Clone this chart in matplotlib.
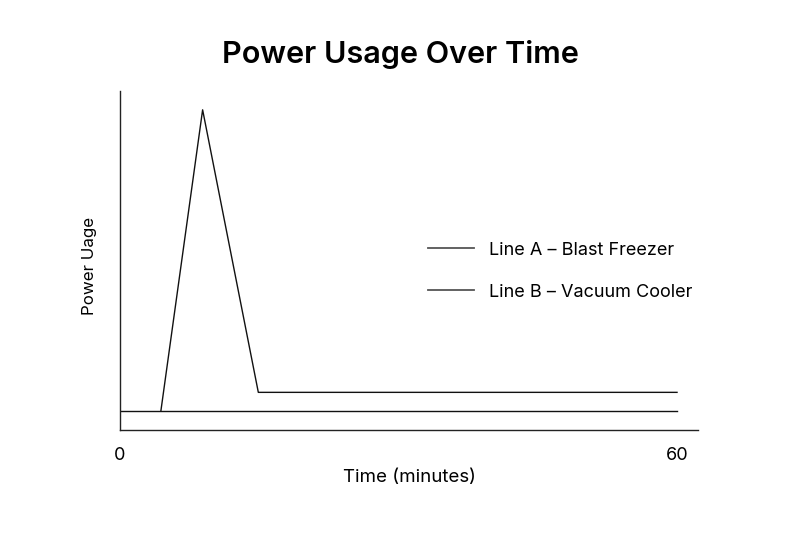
import matplotlib
matplotlib.use("Agg")
import matplotlib.pyplot as plt

plt.rcParams['font.family'] = ['Inter', 'DejaVu Sans']

# Data
time_a = [4.4, 8.9, 14.9, 60]
power_a = [1, 17, 2, 2]
time_b = [0, 60]
power_b = [1, 1]
label_a = "Line A – Blast Freezer"
label_b = "Line B – Vacuum Cooler"
x_ticks = [0, 60]

fig = plt.figure(figsize=(8, 5.33), dpi=100)
ax = fig.add_axes([0.15, 0.1932, 0.7225, 0.6361])

ax.plot(time_a, power_a, color='#111111', lw=1.0, label=label_a)
ax.plot(time_b, power_b, color='#111111', lw=1.0, label=label_b)

ax.set_xlim(0, 62.26)
ax.set_ylim(0, 18)
ax.set_xticks(x_ticks)
ax.set_xticklabels([str(t) for t in x_ticks])
ax.set_yticks([])
ax.tick_params(axis='x', length=0, pad=12, labelsize=13)
for s in ['top', 'right']:
    ax.spines[s].set_visible(False)
for s in ['left', 'bottom']:
    ax.spines[s].set_color('#222222')
    ax.spines[s].set_linewidth(1.0)

ax.set_xlabel("Time (minutes)", fontsize=13.5, labelpad=4)
ax.set_ylabel("Power Uage", fontsize=12.2, labelpad=18)
ax.yaxis.set_label_coords(-0.04, 0.485)
fig.suptitle("Power Usage Over Time", fontsize=22, fontweight=600, y=0.925)

leg = ax.legend(loc='upper left', bbox_to_anchor=(0.52, 0.577), frameon=False,
                fontsize=13, handlelength=2.55, handletextpad=0.85,
                labelspacing=1.38, borderaxespad=0)
for h in leg.get_lines():
    h.set_color('#555555')
    h.set_linewidth(1.3)

fig.savefig("out.png", dpi=100)
